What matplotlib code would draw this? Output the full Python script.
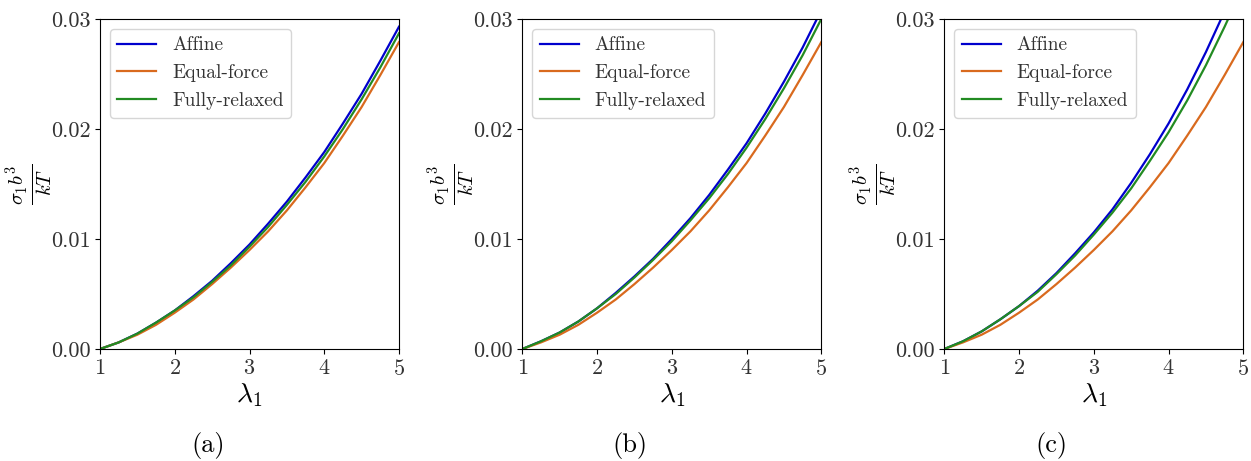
import matplotlib
matplotlib.use("Agg")
import matplotlib.pyplot as plt
from matplotlib.ticker import FormatStrFormatter

plt.rcParams['font.family'] = 'serif'
plt.rcParams['font.serif'] = ['cmr10']
plt.rcParams['mathtext.fontset'] = 'cm'
plt.rcParams['axes.formatter.use_mathtext'] = True

FONT_SIZE = 16

# stretch values
lam = [1.0, 1.25, 1.5, 1.75, 2.0, 2.25, 2.5, 2.75, 3.0,
       3.25, 3.5, 3.75, 4.0, 4.25, 4.5, 4.75, 5.0]

# panel (a)
affine_a = [0, .0006, .0014, .0024, .0035, .0048, .0062, .0078, .0095,
            .0114, .0134, .0156, .0179, .0205, .0232, .0262, .0293]
equal_a = [0, .0006, .0013, .0022, .0033, .0045, .0059, .0074, .0090,
           .0107, .0126, .0147, .0169, .0194, .0220, .0249, .0279]
relaxed_a = [0, .0006, .0014, .0024, .0035, .0047, .0061, .0076, .0093,
             .0111, .0131, .0152, .0175, .0200, .0227, .0256, .0287]

# panel (b)
affine_b = [0, .0007, .0015, .0025, .0037, .0051, .0066, .0082, .0100,
            .0119, .0140, .0163, .0187, .0214, .0243, .0274, .0308]
equal_b = [0, .0006, .0013, .0022, .0033, .0045, .0059, .0074, .0090,
           .0107, .0126, .0147, .0169, .0194, .0220, .0249, .0279]
relaxed_b = [0, .0007, .0015, .0025, .0037, .0050, .0065, .0081, .0098,
             .0117, .0137, .0159, .0183, .0209, .0237, .0267, .0300]

# panel (c)
affine_c = [0, .0007, .0016, .0027, .0039, .0053, .0069, .0087, .0106,
            .0127, .0151, .0177, .0205, .0236, .0270, .0307, .0347]
equal_c = [0, .0006, .0013, .0022, .0033, .0045, .0059, .0074, .0090,
           .0107, .0126, .0147, .0169, .0194, .0220, .0249, .0279]
relaxed_c = [0, .0007, .0016, .0027, .0039, .0052, .0068, .0085, .0104,
             .0124, .0146, .0171, .0197, .0226, .0258, .0293, .0330]

labels = ["Affine", "Equal-force", "Fully-relaxed"]
colors = ["mediumblue", "#d96a1e", "forestgreen"]
captions = ["(a)", "(b)", "(c)"]
panels = [(affine_a, equal_a, relaxed_a),
          (affine_b, equal_b, relaxed_b),
          (affine_c, equal_c, relaxed_c)]

fig = plt.figure(figsize=(12.51, 4.61), dpi=100)
lefts = [100 / 1251, 522.3 / 1251, 944.3 / 1251]
cap_x = [208.5 / 1251, 630 / 1251, 1051.5 / 1251]

for i, series in enumerate(panels):
    ax = fig.add_axes([lefts[i], 1 - 349 / 461, 299 / 1251, 330 / 461])
    for ys, lab, col in zip(series, labels, colors):
        ax.plot(lam, ys, color=col, linewidth=1.6, label=lab)
    ax.set_xlim(1, 5)
    ax.set_ylim(0, 0.03)
    ax.set_xticks([1, 2, 3, 4, 5])
    ax.set_yticks([0, 0.01, 0.02, 0.03])
    ax.yaxis.set_major_formatter(FormatStrFormatter('%.2f'))
    ax.tick_params(axis='both', labelsize=FONT_SIZE, labelcolor='#333333')
    ax.set_xlabel(r"$\lambda_1$", fontsize=20, labelpad=2)
    ax.set_ylabel(r"$\frac{\sigma_1 b^3}{kT}$", fontsize=21, labelpad=-3)
    leg = ax.legend(loc='upper left', fontsize=14)
    for t in leg.get_texts():
        t.set_color('#333333')
    fig.text(cap_x[i], 1 - 445 / 461, captions[i], fontsize=19,
             ha='center', va='center')

plt.savefig("out.png", dpi=100)
